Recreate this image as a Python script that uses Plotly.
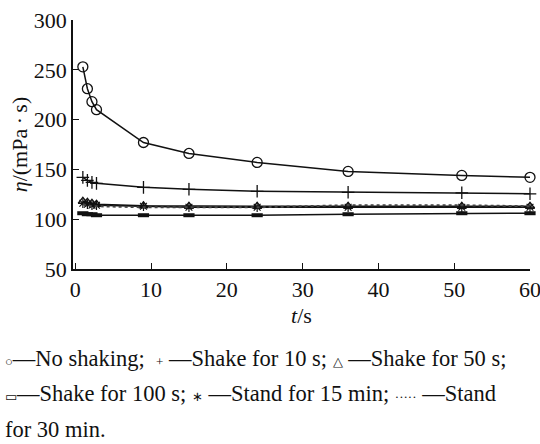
import plotly.graph_objects as go

t_s = [1, 1.6, 2.2, 2.8, 9, 15, 24, 36, 51, 60]
no_shaking = [253, 231, 218, 210, 177, 166, 157, 148, 144, 142]
shake_10s = [142, 139, 137, 136, 132, 130, 128, 127, 126.5, 125.5]
shake_50s = [118, 117, 116, 115, 113.5, 113, 113, 113, 113, 113]
shake_100s = [106, 105, 105, 104, 104, 104, 104, 105, 106, 106]
stand_15min = [116, 115, 114, 114, 113, 112, 112, 112, 112, 112]
stand_30min = [115, 114, 113, 113, 112, 112, 112, 114, 114, 113]
y_ticks = [50, 100, 150, 200, 250, 300]
x_ticks = [0, 10, 20, 30, 40, 50, 60]

FONT = "Liberation Serif"
BLACK = "#111111"

series = [
    (no_shaking, "circle-open", 10, 1.3),
    (shake_10s, "cross-thin-open", 9, 1.3),
    (shake_50s, "triangle-up-open", 8, 1.3),
    (shake_100s, "line-ew-open", 8, 4),
    (stand_15min, "asterisk-open", 8, 1.2),
]

fig = go.Figure()
for vals, sym, size, mlw in series:
    fig.add_trace(go.Scatter(
        x=t_s, y=vals, mode="lines+markers",
        line=dict(color=BLACK, width=1.5),
        marker=dict(symbol=sym, size=size, color=BLACK,
                    line=dict(color=BLACK, width=mlw)),
        showlegend=False, cliponaxis=False))
fig.add_trace(go.Scatter(
    x=t_s, y=stand_30min, mode="lines",
    line=dict(color="#444444", width=2, dash="dot"),
    showlegend=False))

axis_common = dict(
    showline=True, linecolor=BLACK, linewidth=1.5, mirror=False,
    ticks="inside", ticklen=6, tickwidth=1.3, tickcolor=BLACK,
    showgrid=False, zeroline=False, ticklabeloverflow="allow",
    tickfont=dict(family=FONT, size=22, color=BLACK),
)

fig.update_xaxes(range=[-0.3, 60], tickvals=x_ticks, **axis_common,
                 title=dict(text="<i>t</i>/s", font=dict(family=FONT, size=22, color=BLACK), standoff=6))
fig.update_yaxes(range=[50, 300], tickvals=y_ticks, ticksuffix="\u00a0", **axis_common,
                 title=dict(text="<i>η</i>/(mPa\u2009·\u2009s)", font=dict(family=FONT, size=22, color=BLACK), standoff=0))

sm = '<span style="font-size:13px">{}</span>'
sp = "\u00a0"
legend_lines = [
    sm.format("○") + "—No shaking;" + sp * 2 + sm.format("+") + sp + "—Shake for 10 s;" + sp + sm.format("△") + sp + "—Shake for 50 s;",
    sm.format("▭") + "—Shake for 100 s;" + sp + sm.format("∗") + sp + "—Stand for 15 min;" + sp + sm.format("·····") + sp + "—Stand",
    "for 30 min.",
]
L, T, W, H = 73, 20, 457, 249.5
ys_px = [359, 394, 430]
annotations = []
for txt, ypx in zip(legend_lines, ys_px):
    annotations.append(dict(
        text=txt, xref="paper", yref="paper",
        x=(3 - L) / W, y=(T + H - ypx) / H,
        xanchor="left", yanchor="middle", showarrow=False,
        font=dict(family=FONT, size=22.5, color=BLACK)))

fig.update_layout(
    width=540, height=444,
    font=dict(family=FONT, color=BLACK),
    margin=dict(l=L, r=540 - L - W, t=T, b=444 - T - H, autoexpand=False),
    paper_bgcolor="white", plot_bgcolor="white",
    annotations=annotations,
)

fig.write_html("out.html", config={"displayModeBar": False},
               post_script="document.body.style.margin='0';document.body.style.padding='0';")
